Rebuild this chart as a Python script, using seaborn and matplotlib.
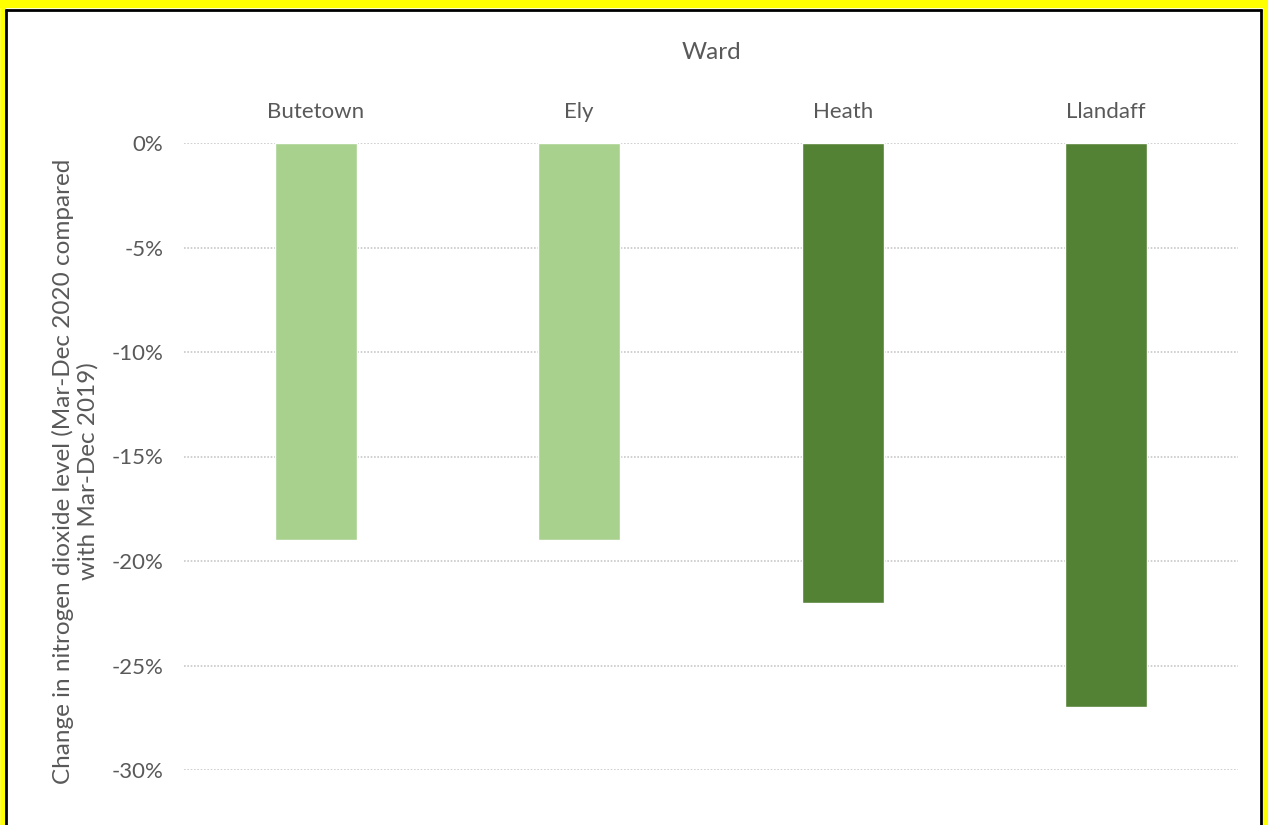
import matplotlib
matplotlib.use("Agg")
import matplotlib.pyplot as plt
import seaborn as sns
import pandas as pd
from matplotlib.ticker import FuncFormatter
from matplotlib.lines import Line2D

wards = ["Butetown", "Ely", "Heath", "Llandaff"]
change = [-19, -19, -22, -27]
bar_colors = ["#A9D18E", "#A9D18E", "#548235", "#548235"]
yticks = [0, -5, -10, -15, -20, -25, -30]

df = pd.DataFrame({"Ward": wards, "Change": change})

sns.set_theme(style="white")
plt.rcParams["font.family"] = ["Lato", "DejaVu Sans"]

W, H = 1268, 825
fig = plt.figure(figsize=(W / 100, H / 100), dpi=100)
ax = fig.add_axes([184 / W, 1 - 770 / H, (1238 - 184) / W, (770 - 143) / H])

sns.barplot(data=df, x="Ward", y="Change", hue="Ward", palette=bar_colors,
            width=0.31, ax=ax, legend=False, saturation=1)

ax.set_ylim(-30, 0)
ax.set_yticks(yticks)
ax.yaxis.set_major_formatter(FuncFormatter(lambda v, p: f"{int(round(v))}%"))
ax.yaxis.grid(True, color="#C8C8C8", linestyle=(0, (1, 1)), linewidth=1.2)
ax.set_axisbelow(True)
for s in ax.spines.values():
    s.set_visible(False)

ax.xaxis.tick_top()
ax.xaxis.set_label_position("top")
ax.tick_params(axis="x", length=0, pad=15, labelsize=16, labelcolor="#595959")
ax.tick_params(axis="y", length=0, pad=15, labelsize=16, labelcolor="#595959")
ax.set_xlabel("Ward", fontsize=17.5, color="#595959", labelpad=31)
ax.set_ylabel("Change in nitrogen dioxide level (Mar-Dec 2020 compared\nwith Mar-Dec 2019)",
              fontsize=17.5, color="#595959")
ax.yaxis.set_label_coords(-0.081, 0.476)

# borders
def hline(y, x0, x1, color, lw):
    fig.add_artist(Line2D([x0 / W, x1 / W], [1 - y / H, 1 - y / H], color=color, lw=lw,
                          transform=fig.transFigure, solid_capstyle="butt"))

def vline(x, y0, y1, color, lw):
    fig.add_artist(Line2D([x / W, x / W], [1 - y0 / H, 1 - y1 / H], color=color, lw=lw,
                          transform=fig.transFigure, solid_capstyle="butt"))

hline(4, 0, W, "#FFFF00", 6)
vline(2.5, 0, H, "#FFFF00", 4)
vline(1265.5, 0, H, "#FFFF00", 4)
hline(9.5, 5, 1262, "#000000", 2)
vline(6, 9, H, "#000000", 2)
vline(1261, 9, H, "#000000", 2)

fig.savefig("out.png", dpi=100)
